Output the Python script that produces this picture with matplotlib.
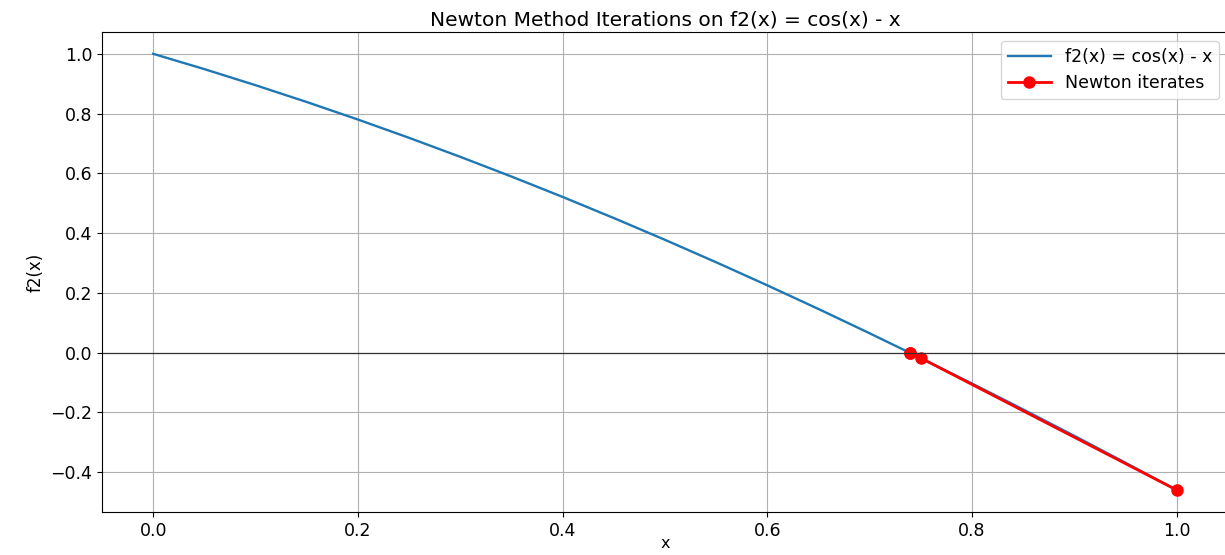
import matplotlib

matplotlib.use("Agg")
import matplotlib.pyplot as plt

# f2(x) = cos(x) - x
curve_x = [0.00, 0.05, 0.10, 0.15, 0.20, 0.25, 0.30, 0.35, 0.40, 0.45, 0.50,
           0.55, 0.60, 0.65, 0.70, 0.75, 0.80, 0.85, 0.90, 0.95, 1.00]
curve_y = [1.0000, 0.9488, 0.8950, 0.8388, 0.7801, 0.7189, 0.6553, 0.5894,
           0.5211, 0.4505, 0.3776, 0.3025, 0.2253, 0.1461, 0.0648, -0.0183,
           -0.1033, -0.1900, -0.2784, -0.3684, -0.4597]

# Newton iterates starting from x0 = 1
iter_x = [1.0, 0.7504, 0.7391, 0.7391]
iter_y = [-0.4597, -0.0189, -0.0001, 0.0]

W, H = 1225, 555
fig = plt.figure(figsize=(W / 100, H / 100), dpi=100)
ax = fig.add_axes([102 / W, 43 / H, 1126 / W, 480 / H])

ax.plot(curve_x, curve_y, color="#1f77b4", linewidth=1.7, label="f2(x) = cos(x) - x")
ax.plot(iter_x, iter_y, "o-", color="red", linewidth=2.0, markersize=8,
        label="Newton iterates")
ax.axhline(0, color="#333333", linewidth=0.9)

ax.set_xlim(-0.05, 1.05)
ax.set_ylim(-0.533, 1.073)
ax.set_title("Newton Method Iterations on f2(x) = cos(x) - x", fontsize=14.5, pad=5)
ax.set_xlabel("x", fontsize=11.5, labelpad=-3)
ax.set_ylabel("f2(x)", fontsize=12)
ax.tick_params(labelsize=12.5)
ax.grid(True)
ax.legend(loc="upper right", fontsize=12.5, handlelength=2.5)

fig.savefig("out.png", dpi=100)
